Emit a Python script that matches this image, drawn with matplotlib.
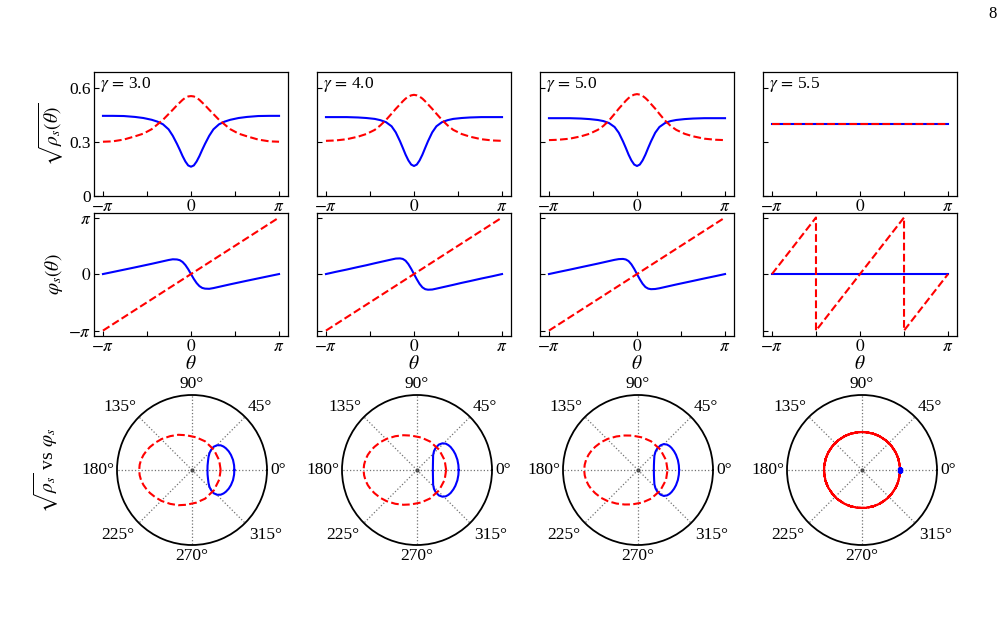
import numpy as np
import matplotlib
matplotlib.use("Agg")
import matplotlib.pyplot as plt

plt.rcParams['font.family'] = ['Liberation Serif', 'DejaVu Serif']
plt.rcParams['mathtext.fontset'] = 'stix'

PI = np.pi
gammas = ["3.0", "4.0", "5.0", "5.5"]
polar_angles = [0, 45, 90, 135, 180, 225, 270, 315]

# theta samples (read positions)
theta = [-3.1416, -2.8, -2.4, -2.0, -1.7, -1.4, -1.2, -1.0, -0.8, -0.65, -0.5, -0.4, -0.3, -0.2, -0.1, 0.0,
         0.1, 0.2, 0.3, 0.4, 0.5, 0.65, 0.8, 1.0, 1.2, 1.4, 1.7, 2.0, 2.4, 2.8, 3.1416]

# sqrt(rho_s) — blue (solid)
amp_blue_g3 = [0.446, 0.446, 0.445, 0.440, 0.434, 0.424, 0.414, 0.399, 0.371, 0.335, 0.290, 0.257, 0.222, 0.192, 0.170, 0.163,
               0.170, 0.192, 0.222, 0.257, 0.290, 0.335, 0.371, 0.399, 0.414, 0.424, 0.434, 0.440, 0.445, 0.446, 0.446]
amp_blue_g4 = [0.439, 0.439, 0.439, 0.437, 0.434, 0.429, 0.422, 0.411, 0.388, 0.354, 0.305, 0.268, 0.230, 0.198, 0.175, 0.167,
               0.175, 0.198, 0.230, 0.268, 0.305, 0.354, 0.388, 0.411, 0.422, 0.429, 0.434, 0.437, 0.439, 0.439, 0.439]
amp_blue_g5 = [0.433, 0.433, 0.433, 0.431, 0.428, 0.423, 0.417, 0.406, 0.384, 0.352, 0.304, 0.268, 0.230, 0.198, 0.175, 0.167,
               0.175, 0.198, 0.230, 0.268, 0.304, 0.352, 0.384, 0.406, 0.417, 0.423, 0.428, 0.431, 0.433, 0.433, 0.433]
# sqrt(rho_s) — red (dashed)
amp_red_g3 = [0.302, 0.304, 0.314, 0.332, 0.347, 0.372, 0.398, 0.424, 0.456, 0.480, 0.505, 0.520, 0.535, 0.547, 0.554, 0.556,
              0.554, 0.547, 0.535, 0.520, 0.505, 0.480, 0.456, 0.424, 0.398, 0.372, 0.347, 0.332, 0.314, 0.304, 0.302]
amp_red_g4 = [0.307, 0.309, 0.316, 0.330, 0.345, 0.368, 0.393, 0.423, 0.458, 0.485, 0.510, 0.527, 0.542, 0.553, 0.560, 0.563,
              0.560, 0.553, 0.542, 0.527, 0.510, 0.485, 0.458, 0.423, 0.393, 0.368, 0.345, 0.330, 0.316, 0.309, 0.307]
amp_red_g5 = [0.311, 0.313, 0.319, 0.332, 0.346, 0.368, 0.390, 0.420, 0.457, 0.486, 0.512, 0.530, 0.545, 0.557, 0.564, 0.567,
              0.564, 0.557, 0.545, 0.530, 0.512, 0.486, 0.457, 0.420, 0.390, 0.368, 0.346, 0.332, 0.319, 0.313, 0.311]

# phase varphi_s — blue (solid)
ph_blue_g3 = [0.0, 0.11, 0.24, 0.37, 0.47, 0.57, 0.64, 0.71, 0.78, 0.82, 0.81, 0.77, 0.67, 0.50, 0.27, 0.0,
              -0.27, -0.50, -0.67, -0.77, -0.81, -0.82, -0.78, -0.71, -0.64, -0.57, -0.47, -0.37, -0.24, -0.11, 0.0]
ph_blue_g4 = [0.0, 0.12, 0.25, 0.39, 0.49, 0.60, 0.67, 0.74, 0.81, 0.86, 0.87, 0.84, 0.74, 0.55, 0.29, 0.0,
              -0.29, -0.55, -0.74, -0.84, -0.87, -0.86, -0.81, -0.74, -0.67, -0.60, -0.49, -0.39, -0.25, -0.12, 0.0]
ph_blue_g5 = [0.0, 0.115, 0.245, 0.38, 0.48, 0.58, 0.65, 0.72, 0.79, 0.83, 0.84, 0.81, 0.72, 0.54, 0.29, 0.0,
              -0.29, -0.54, -0.72, -0.81, -0.84, -0.83, -0.79, -0.72, -0.65, -0.58, -0.48, -0.38, -0.245, -0.115, 0.0]
# phase — red (dashed), a straight line through the origin
ph_red_lin = [-3.1416, -2.8, -2.4, -2.0, -1.7, -1.4, -1.2, -1.0, -0.8, -0.65, -0.5, -0.4, -0.3, -0.2, -0.1, 0.0,
              0.1, 0.2, 0.3, 0.4, 0.5, 0.65, 0.8, 1.0, 1.2, 1.4, 1.7, 2.0, 2.4, 2.8, 3.1416]

# gamma = 5.5: flat amplitudes, sawtooth red phase
theta_g55 = [-3.1416, -1.5708, -1.5708, 1.5708, 1.5708, 3.1416]
amp_blue_g55 = [0.40, 0.40, 0.40, 0.40, 0.40, 0.40]
amp_red_g55 = [0.40, 0.40, 0.40, 0.40, 0.40, 0.40]
ph_blue_g55 = [0.0, 0.0, 0.0, 0.0, 0.0, 0.0]
ph_red_g55 = [0.0, 3.1416, -3.1416, 3.1416, -3.1416, 0.0]

cols = [
    (theta, amp_blue_g3, amp_red_g3, ph_blue_g3, ph_red_lin),
    (theta, amp_blue_g4, amp_red_g4, ph_blue_g4, ph_red_lin),
    (theta, amp_blue_g5, amp_red_g5, ph_blue_g5, ph_red_lin),
    (theta_g55, amp_blue_g55, amp_red_g55, ph_blue_g55, ph_red_g55),
]

W, H = 1007, 623
fig = plt.figure(figsize=(W / 100, H / 100), dpi=100)

def fx(px):
    return px / W

def fy(py):
    return 1 - py / H

lefts = [94, 317, 540, 763]
pw = 194
pcent = [192, 417, 638, 862]
R = 75
RMAX = 0.79
BLUE = '#0000ff'
RED = '#ff0000'
LW = 1.5
FS = 12.5

xt = [-PI, -PI / 2, 0, PI / 2, PI]
xtl = [r'$-\pi$', '', r'$0$', '', r'$\pi$']

for i, (th, ab, ar, pb, pr) in enumerate(cols):
    # row 1
    ax1 = fig.add_axes([fx(lefts[i]), fy(196), fx(pw), (196 - 72) / H])
    ax1.plot(th, ab, color=BLUE, lw=LW)
    ax1.plot(th, ar, color=RED, lw=LW, ls='--')
    ax1.set_xlim(-PI - 0.32, PI + 0.32)
    ax1.set_ylim(0, 0.69)
    ax1.set_xticks(xt)
    ax1.set_xticklabels(xtl)
    ax1.set_yticks([0, 0.3, 0.6])
    if i == 0:
        ax1.set_yticklabels(['0', '0.3', '0.6'])
        ax1.set_ylabel(r'$\sqrt{\rho_s(\theta)}$', fontsize=14, labelpad=3)
    else:
        ax1.set_yticklabels([])
    ax1.text(0.03, 0.9, r'$\gamma\,=\,$' + gammas[i], transform=ax1.transAxes,
             fontsize=FS, va='center', ha='left')
    # row 2
    ax2 = fig.add_axes([fx(lefts[i]), fy(336), fx(pw), (336 - 213) / H])
    ax2.plot(th, pb, color=BLUE, lw=LW)
    ax2.plot(th, pr, color=RED, lw=LW, ls='--')
    ax2.set_xlim(-PI - 0.32, PI + 0.32)
    ax2.set_ylim(-PI - 0.3, PI + 0.25)
    ax2.set_xticks(xt)
    ax2.set_xticklabels(xtl)
    ax2.set_yticks([-PI, 0, PI])
    if i == 0:
        ax2.set_yticklabels([r'$-\pi$', r'$0$', r'$\pi$'])
        ax2.set_ylabel(r'$\varphi_s(\theta)$', fontsize=14, labelpad=2)
    else:
        ax2.set_yticklabels([])
    ax2.set_xlabel(r'$\theta$', fontsize=14, labelpad=0)
    for ax in (ax1, ax2):
        ax.tick_params(direction='in', length=3.5, width=0.8, labelsize=FS, pad=2)
        for s in ax.spines.values():
            s.set_linewidth(0.9)
    # row 3 polar
    axp = fig.add_axes([fx(pcent[i] - R), fy(470 + R), fx(2 * R), 2 * R / H], projection='polar')
    axp.plot(pb, ab, color=BLUE, lw=LW)
    pr_shift = [p + PI for p in pr]
    lr, = axp.plot(pr_shift, ar, color=RED, lw=LW, ls='--')
    if i == 3:
        lr.get_path()._interpolation_steps = 180
        axp.plot(pb[:1], ab[:1], 's', color=BLUE, ms=2.5)
    axp.plot([0], [0], 'o', color='0.3', ms=2)
    axp.set_rlim(0, RMAX)
    axp.set_yticks([])
    axp.set_thetagrids(polar_angles, [''] * len(polar_angles))
    axp.grid(True, axis='x', color='0.45', ls=':', lw=0.9)
    axp.spines['polar'].set_linewidth(1.3)
    for a in polar_angles:
        c, s = np.cos(np.radians(a)), np.sin(np.radians(a))
        ha = 'left' if c > 0.1 else ('right' if c < -0.1 else 'center')
        va = 'bottom' if s > 0.1 else ('top' if s < -0.1 else 'center')
        off = 3.0
        if abs(c) > 0.1 and s < -0.1:
            off = 6.0
        axp.text(np.radians(a), RMAX * (1 + off / R), f'{a}°', ha=ha, va=va,
                 fontsize=FS, clip_on=False)
    if i == 0:
        fig.text(fx(46), fy(470), r'$\sqrt{\rho_s}$ vs $\varphi_s$', rotation=90,
                 fontsize=14, ha='center', va='center')

fig.text(fx(993), fy(14), '8', fontsize=12, ha='center', va='center')

fig.savefig('out.png', dpi=100)
